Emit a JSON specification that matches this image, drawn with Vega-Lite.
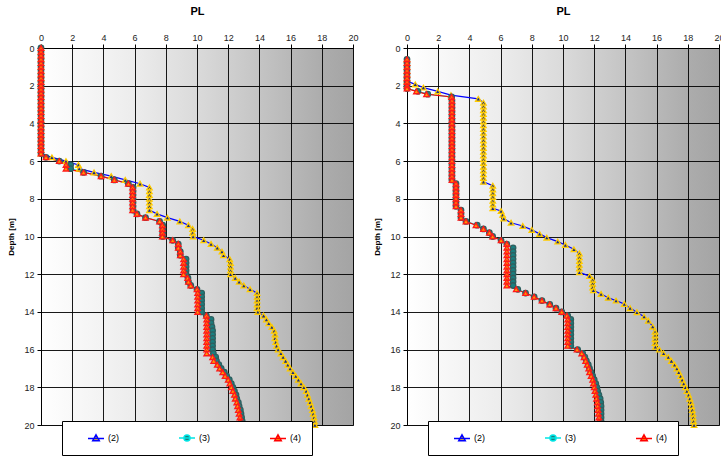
{
"$schema": "https://vega.github.io/schema/vega-lite/v6.json",
"padding": {"left": 7, "top": 4, "right": 2, "bottom": 2},
"datasets": {
"left": [
{"series":"(2)","depth":0,"pl":0},{"series":"(2)","depth":0.2,"pl":0},{"series":"(2)","depth":0.4,"pl":0},{"series":"(2)","depth":0.6,"pl":0},{"series":"(2)","depth":0.8,"pl":0},{"series":"(2)","depth":1,"pl":0},{"series":"(2)","depth":1.2,"pl":0},{"series":"(2)","depth":1.4,"pl":0},{"series":"(2)","depth":1.6,"pl":0},{"series":"(2)","depth":1.8,"pl":0},{"series":"(2)","depth":2,"pl":0},{"series":"(2)","depth":2.2,"pl":0},{"series":"(2)","depth":2.4,"pl":0},{"series":"(2)","depth":2.6,"pl":0},{"series":"(2)","depth":2.8,"pl":0},{"series":"(2)","depth":3,"pl":0},{"series":"(2)","depth":3.2,"pl":0},{"series":"(2)","depth":3.4,"pl":0},{"series":"(2)","depth":3.6,"pl":0},{"series":"(2)","depth":3.8,"pl":0},{"series":"(2)","depth":4,"pl":0},{"series":"(2)","depth":4.2,"pl":0},{"series":"(2)","depth":4.4,"pl":0},{"series":"(2)","depth":4.6,"pl":0},{"series":"(2)","depth":4.8,"pl":0},{"series":"(2)","depth":5,"pl":0},{"series":"(2)","depth":5.2,"pl":0},{"series":"(2)","depth":5.4,"pl":0},{"series":"(2)","depth":5.6,"pl":0},
{"series":"(2)","depth":5.8,"pl":0.7},{"series":"(2)","depth":6,"pl":1.6},{"series":"(2)","depth":6.2,"pl":2.4},{"series":"(2)","depth":6.4,"pl":2.45},{"series":"(2)","depth":6.6,"pl":3.4},{"series":"(2)","depth":6.8,"pl":4.5},{"series":"(2)","depth":7,"pl":5.4},{"series":"(2)","depth":7.2,"pl":6.35},{"series":"(2)","depth":7.4,"pl":6.95},{"series":"(2)","depth":7.6,"pl":6.95},{"series":"(2)","depth":7.8,"pl":6.95},{"series":"(2)","depth":8,"pl":6.95},{"series":"(2)","depth":8.2,"pl":6.95},{"series":"(2)","depth":8.4,"pl":6.95},{"series":"(2)","depth":8.6,"pl":6.95},{"series":"(2)","depth":8.8,"pl":7.44},{"series":"(2)","depth":9,"pl":8.1},{"series":"(2)","depth":9.2,"pl":8.9},{"series":"(2)","depth":9.4,"pl":9.45},{"series":"(2)","depth":9.6,"pl":9.72},{"series":"(2)","depth":9.8,"pl":9.72},{"series":"(2)","depth":10,"pl":9.75},{"series":"(2)","depth":10.2,"pl":10.43},{"series":"(2)","depth":10.4,"pl":10.9},{"series":"(2)","depth":10.6,"pl":11.3},{"series":"(2)","depth":10.8,"pl":11.6},{"series":"(2)","depth":11,"pl":11.7},{"series":"(2)","depth":11.2,"pl":12.1},{"series":"(2)","depth":11.4,"pl":12.15},{"series":"(2)","depth":11.6,"pl":12.15},{"series":"(2)","depth":11.8,"pl":12.15},{"series":"(2)","depth":12,"pl":12.15},{"series":"(2)","depth":12.2,"pl":12.45},{"series":"(2)","depth":12.4,"pl":12.7},{"series":"(2)","depth":12.6,"pl":13},{"series":"(2)","depth":12.8,"pl":13.4},{"series":"(2)","depth":13,"pl":13.85},{"series":"(2)","depth":13.2,"pl":13.85},{"series":"(2)","depth":13.4,"pl":13.85},{"series":"(2)","depth":13.6,"pl":13.85},{"series":"(2)","depth":13.8,"pl":13.85},{"series":"(2)","depth":14,"pl":13.9},{"series":"(2)","depth":14.2,"pl":14.27},{"series":"(2)","depth":14.4,"pl":14.45},{"series":"(2)","depth":14.6,"pl":14.6},{"series":"(2)","depth":14.8,"pl":14.8},{"series":"(2)","depth":15,"pl":14.95},{"series":"(2)","depth":15.2,"pl":15},{"series":"(2)","depth":15.4,"pl":15},{"series":"(2)","depth":15.6,"pl":15.05},{"series":"(2)","depth":15.8,"pl":15.1},{"series":"(2)","depth":16,"pl":15.2},{"series":"(2)","depth":16.2,"pl":15.38},{"series":"(2)","depth":16.4,"pl":15.52},{"series":"(2)","depth":16.6,"pl":15.68},{"series":"(2)","depth":16.8,"pl":15.82},{"series":"(2)","depth":17,"pl":15.97},{"series":"(2)","depth":17.2,"pl":16.15},{"series":"(2)","depth":17.4,"pl":16.33},{"series":"(2)","depth":17.6,"pl":16.5},{"series":"(2)","depth":17.8,"pl":16.67},{"series":"(2)","depth":18,"pl":16.85},{"series":"(2)","depth":18.2,"pl":17},{"series":"(2)","depth":18.4,"pl":17.08},{"series":"(2)","depth":18.6,"pl":17.17},{"series":"(2)","depth":18.8,"pl":17.25},{"series":"(2)","depth":19,"pl":17.32},{"series":"(2)","depth":19.2,"pl":17.4},{"series":"(2)","depth":19.4,"pl":17.45},{"series":"(2)","depth":19.6,"pl":17.5},{"series":"(2)","depth":19.8,"pl":17.53},{"series":"(2)","depth":20,"pl":17.56},
{"series":"(3)","depth":0,"pl":0},{"series":"(3)","depth":0.2,"pl":0},{"series":"(3)","depth":0.4,"pl":0},{"series":"(3)","depth":0.6,"pl":0},{"series":"(3)","depth":0.8,"pl":0},{"series":"(3)","depth":1,"pl":0},{"series":"(3)","depth":1.2,"pl":0},{"series":"(3)","depth":1.4,"pl":0},{"series":"(3)","depth":1.6,"pl":0},{"series":"(3)","depth":1.8,"pl":0},{"series":"(3)","depth":2,"pl":0},{"series":"(3)","depth":2.2,"pl":0},{"series":"(3)","depth":2.4,"pl":0},{"series":"(3)","depth":2.6,"pl":0},{"series":"(3)","depth":2.8,"pl":0},{"series":"(3)","depth":3,"pl":0},{"series":"(3)","depth":3.2,"pl":0},{"series":"(3)","depth":3.4,"pl":0},{"series":"(3)","depth":3.6,"pl":0},{"series":"(3)","depth":3.8,"pl":0},{"series":"(3)","depth":4,"pl":0},{"series":"(3)","depth":4.2,"pl":0},{"series":"(3)","depth":4.4,"pl":0},{"series":"(3)","depth":4.6,"pl":0},{"series":"(3)","depth":4.8,"pl":0},{"series":"(3)","depth":5,"pl":0},{"series":"(3)","depth":5.2,"pl":0},{"series":"(3)","depth":5.4,"pl":0},{"series":"(3)","depth":5.6,"pl":0},
{"series":"(3)","depth":5.8,"pl":0.32},{"series":"(3)","depth":6,"pl":1.17},{"series":"(3)","depth":6.2,"pl":1.9},{"series":"(3)","depth":6.4,"pl":1.9},{"series":"(3)","depth":6.6,"pl":2.73},{"series":"(3)","depth":6.8,"pl":3.85},{"series":"(3)","depth":7,"pl":4.7},{"series":"(3)","depth":7.2,"pl":5.6},{"series":"(3)","depth":7.4,"pl":5.9},{"series":"(3)","depth":7.6,"pl":5.9},{"series":"(3)","depth":7.8,"pl":5.9},{"series":"(3)","depth":8,"pl":5.9},{"series":"(3)","depth":8.2,"pl":5.9},{"series":"(3)","depth":8.4,"pl":5.9},{"series":"(3)","depth":8.6,"pl":5.9},{"series":"(3)","depth":8.8,"pl":6.15},{"series":"(3)","depth":9,"pl":6.7},{"series":"(3)","depth":9.2,"pl":7.6},{"series":"(3)","depth":9.4,"pl":7.8},{"series":"(3)","depth":9.6,"pl":7.8},{"series":"(3)","depth":9.8,"pl":7.8},{"series":"(3)","depth":10,"pl":7.8},{"series":"(3)","depth":10.2,"pl":8.44},{"series":"(3)","depth":10.4,"pl":8.8},{"series":"(3)","depth":10.6,"pl":8.8},{"series":"(3)","depth":10.8,"pl":8.93},{"series":"(3)","depth":11,"pl":8.93},{"series":"(3)","depth":11.2,"pl":9.3},{"series":"(3)","depth":11.4,"pl":9.3},{"series":"(3)","depth":11.6,"pl":9.3},{"series":"(3)","depth":11.8,"pl":9.3},{"series":"(3)","depth":12,"pl":9.3},{"series":"(3)","depth":12.2,"pl":9.42},{"series":"(3)","depth":12.4,"pl":9.45},{"series":"(3)","depth":12.6,"pl":9.6},{"series":"(3)","depth":12.8,"pl":10},{"series":"(3)","depth":13,"pl":10.3},{"series":"(3)","depth":13.2,"pl":10.3},{"series":"(3)","depth":13.4,"pl":10.3},{"series":"(3)","depth":13.6,"pl":10.3},{"series":"(3)","depth":13.8,"pl":10.3},{"series":"(3)","depth":14,"pl":10.3},{"series":"(3)","depth":14.2,"pl":10.6},{"series":"(3)","depth":14.4,"pl":10.9},{"series":"(3)","depth":14.6,"pl":10.9},{"series":"(3)","depth":14.8,"pl":10.96},{"series":"(3)","depth":15,"pl":11},{"series":"(3)","depth":15.2,"pl":11},{"series":"(3)","depth":15.4,"pl":11},{"series":"(3)","depth":15.6,"pl":11},{"series":"(3)","depth":15.8,"pl":11},{"series":"(3)","depth":16,"pl":11},{"series":"(3)","depth":16.2,"pl":11.05},{"series":"(3)","depth":16.4,"pl":11.2},{"series":"(3)","depth":16.6,"pl":11.25},{"series":"(3)","depth":16.8,"pl":11.4},{"series":"(3)","depth":17,"pl":11.55},{"series":"(3)","depth":17.2,"pl":11.75},{"series":"(3)","depth":17.4,"pl":11.9},{"series":"(3)","depth":17.6,"pl":12.07},{"series":"(3)","depth":17.8,"pl":12.2},{"series":"(3)","depth":18,"pl":12.3},{"series":"(3)","depth":18.2,"pl":12.4},{"series":"(3)","depth":18.4,"pl":12.5},{"series":"(3)","depth":18.6,"pl":12.55},{"series":"(3)","depth":18.8,"pl":12.65},{"series":"(3)","depth":19,"pl":12.7},{"series":"(3)","depth":19.2,"pl":12.78},{"series":"(3)","depth":19.4,"pl":12.82},{"series":"(3)","depth":19.6,"pl":12.86},{"series":"(3)","depth":19.8,"pl":12.9},{"series":"(3)","depth":20,"pl":12.92},
{"series":"(4)","depth":0,"pl":0},{"series":"(4)","depth":0.2,"pl":0},{"series":"(4)","depth":0.4,"pl":0},{"series":"(4)","depth":0.6,"pl":0},{"series":"(4)","depth":0.8,"pl":0},{"series":"(4)","depth":1,"pl":0},{"series":"(4)","depth":1.2,"pl":0},{"series":"(4)","depth":1.4,"pl":0},{"series":"(4)","depth":1.6,"pl":0},{"series":"(4)","depth":1.8,"pl":0},{"series":"(4)","depth":2,"pl":0},{"series":"(4)","depth":2.2,"pl":0},{"series":"(4)","depth":2.4,"pl":0},{"series":"(4)","depth":2.6,"pl":0},{"series":"(4)","depth":2.8,"pl":0},{"series":"(4)","depth":3,"pl":0},{"series":"(4)","depth":3.2,"pl":0},{"series":"(4)","depth":3.4,"pl":0},{"series":"(4)","depth":3.6,"pl":0},{"series":"(4)","depth":3.8,"pl":0},{"series":"(4)","depth":4,"pl":0},{"series":"(4)","depth":4.2,"pl":0},{"series":"(4)","depth":4.4,"pl":0},{"series":"(4)","depth":4.6,"pl":0},{"series":"(4)","depth":4.8,"pl":0},{"series":"(4)","depth":5,"pl":0},{"series":"(4)","depth":5.2,"pl":0},{"series":"(4)","depth":5.4,"pl":0},{"series":"(4)","depth":5.6,"pl":0},
{"series":"(4)","depth":5.8,"pl":0.32},{"series":"(4)","depth":6,"pl":1.17},{"series":"(4)","depth":6.2,"pl":1.6},{"series":"(4)","depth":6.4,"pl":1.6},{"series":"(4)","depth":6.6,"pl":2.73},{"series":"(4)","depth":6.8,"pl":3.85},{"series":"(4)","depth":7,"pl":4.7},{"series":"(4)","depth":7.2,"pl":5.6},{"series":"(4)","depth":7.4,"pl":5.87},{"series":"(4)","depth":7.6,"pl":5.87},{"series":"(4)","depth":7.8,"pl":5.87},{"series":"(4)","depth":8,"pl":5.87},{"series":"(4)","depth":8.2,"pl":5.87},{"series":"(4)","depth":8.4,"pl":5.87},{"series":"(4)","depth":8.6,"pl":5.87},{"series":"(4)","depth":8.8,"pl":6.15},{"series":"(4)","depth":9,"pl":6.7},{"series":"(4)","depth":9.2,"pl":7.6},{"series":"(4)","depth":9.4,"pl":7.78},{"series":"(4)","depth":9.6,"pl":7.78},{"series":"(4)","depth":9.8,"pl":7.78},{"series":"(4)","depth":10,"pl":7.78},{"series":"(4)","depth":10.2,"pl":8.44},{"series":"(4)","depth":10.4,"pl":8.8},{"series":"(4)","depth":10.6,"pl":8.8},{"series":"(4)","depth":10.8,"pl":8.93},{"series":"(4)","depth":11,"pl":8.93},{"series":"(4)","depth":11.2,"pl":9.14},{"series":"(4)","depth":11.4,"pl":9.14},{"series":"(4)","depth":11.6,"pl":9.14},{"series":"(4)","depth":11.8,"pl":9.14},{"series":"(4)","depth":12,"pl":9.14},{"series":"(4)","depth":12.2,"pl":9.4},{"series":"(4)","depth":12.4,"pl":9.45},{"series":"(4)","depth":12.6,"pl":9.6},{"series":"(4)","depth":12.8,"pl":10},{"series":"(4)","depth":13,"pl":10.04},{"series":"(4)","depth":13.2,"pl":10.04},{"series":"(4)","depth":13.4,"pl":10.04},{"series":"(4)","depth":13.6,"pl":10.04},{"series":"(4)","depth":13.8,"pl":10.04},{"series":"(4)","depth":14,"pl":10.04},{"series":"(4)","depth":14.2,"pl":10.6},{"series":"(4)","depth":14.4,"pl":10.62},{"series":"(4)","depth":14.6,"pl":10.62},{"series":"(4)","depth":14.8,"pl":10.62},{"series":"(4)","depth":15,"pl":10.62},{"series":"(4)","depth":15.2,"pl":10.62},{"series":"(4)","depth":15.4,"pl":10.62},{"series":"(4)","depth":15.6,"pl":10.62},{"series":"(4)","depth":15.8,"pl":10.62},{"series":"(4)","depth":16,"pl":10.62},{"series":"(4)","depth":16.2,"pl":10.62},{"series":"(4)","depth":16.4,"pl":11},{"series":"(4)","depth":16.6,"pl":11.07},{"series":"(4)","depth":16.8,"pl":11.3},{"series":"(4)","depth":17,"pl":11.45},{"series":"(4)","depth":17.2,"pl":11.65},{"series":"(4)","depth":17.4,"pl":11.8},{"series":"(4)","depth":17.6,"pl":12},{"series":"(4)","depth":17.8,"pl":12.1},{"series":"(4)","depth":18,"pl":12.2},{"series":"(4)","depth":18.2,"pl":12.3},{"series":"(4)","depth":18.4,"pl":12.4},{"series":"(4)","depth":18.6,"pl":12.45},{"series":"(4)","depth":18.8,"pl":12.55},{"series":"(4)","depth":19,"pl":12.6},{"series":"(4)","depth":19.2,"pl":12.65},{"series":"(4)","depth":19.4,"pl":12.7},{"series":"(4)","depth":19.6,"pl":12.75},{"series":"(4)","depth":19.8,"pl":12.75},{"series":"(4)","depth":20,"pl":12.8}
],
"right": [
{"series":"(2)","depth":0.6,"pl":0},{"series":"(2)","depth":0.8,"pl":0},{"series":"(2)","depth":1,"pl":0},{"series":"(2)","depth":1.2,"pl":0},{"series":"(2)","depth":1.4,"pl":0},{"series":"(2)","depth":1.6,"pl":0},{"series":"(2)","depth":1.75,"pl":0},{"series":"(2)","depth":1.93,"pl":0.53},{"series":"(2)","depth":2.1,"pl":1.05},{"series":"(2)","depth":2.3,"pl":1.97},{"series":"(2)","depth":2.5,"pl":2.82},{"series":"(2)","depth":2.7,"pl":4.57},{"series":"(2)","depth":2.9,"pl":4.9},{"series":"(2)","depth":3.1,"pl":4.9},{"series":"(2)","depth":3.3,"pl":4.9},{"series":"(2)","depth":3.5,"pl":4.9},{"series":"(2)","depth":3.7,"pl":4.9},{"series":"(2)","depth":3.9,"pl":4.9},{"series":"(2)","depth":4.1,"pl":4.9},{"series":"(2)","depth":4.3,"pl":4.9},{"series":"(2)","depth":4.5,"pl":4.9},{"series":"(2)","depth":4.7,"pl":4.9},{"series":"(2)","depth":4.9,"pl":4.9},{"series":"(2)","depth":5.1,"pl":4.9},{"series":"(2)","depth":5.3,"pl":4.9},{"series":"(2)","depth":5.5,"pl":4.9},{"series":"(2)","depth":5.7,"pl":4.9},{"series":"(2)","depth":5.9,"pl":4.9},{"series":"(2)","depth":6.1,"pl":4.9},{"series":"(2)","depth":6.3,"pl":4.9},{"series":"(2)","depth":6.5,"pl":4.9},{"series":"(2)","depth":6.7,"pl":4.9},{"series":"(2)","depth":6.9,"pl":4.9},{"series":"(2)","depth":7.1,"pl":4.9},{"series":"(2)","depth":7.3,"pl":5.5},{"series":"(2)","depth":7.5,"pl":5.5},{"series":"(2)","depth":7.7,"pl":5.5},{"series":"(2)","depth":7.9,"pl":5.5},{"series":"(2)","depth":8.1,"pl":5.5},{"series":"(2)","depth":8.3,"pl":5.5},{"series":"(2)","depth":8.5,"pl":5.5},{"series":"(2)","depth":8.65,"pl":6.03},{"series":"(2)","depth":8.85,"pl":6.13},{"series":"(2)","depth":9.05,"pl":6.2},{"series":"(2)","depth":9.27,"pl":6.67},{"series":"(2)","depth":9.44,"pl":7.42},{"series":"(2)","depth":9.65,"pl":8},{"series":"(2)","depth":9.86,"pl":8.5},{"series":"(2)","depth":10.06,"pl":8.96},{"series":"(2)","depth":10.27,"pl":9.66},{"series":"(2)","depth":10.45,"pl":10.15},{"series":"(2)","depth":10.68,"pl":10.7},{"series":"(2)","depth":10.9,"pl":11.05},{"series":"(2)","depth":11.1,"pl":11.05},{"series":"(2)","depth":11.3,"pl":11.05},{"series":"(2)","depth":11.5,"pl":11.05},{"series":"(2)","depth":11.7,"pl":11.05},{"series":"(2)","depth":11.9,"pl":11.05},{"series":"(2)","depth":12.1,"pl":11.7},{"series":"(2)","depth":12.3,"pl":11.9},{"series":"(2)","depth":12.5,"pl":11.9},{"series":"(2)","depth":12.7,"pl":11.9},{"series":"(2)","depth":12.85,"pl":11.95},{"series":"(2)","depth":13.05,"pl":12.44},{"series":"(2)","depth":13.25,"pl":12.9},{"series":"(2)","depth":13.4,"pl":13.4},{"series":"(2)","depth":13.58,"pl":13.93},{"series":"(2)","depth":13.8,"pl":14.3},{"series":"(2)","depth":14.02,"pl":14.74},{"series":"(2)","depth":14.25,"pl":15.2},{"series":"(2)","depth":14.47,"pl":15.47},{"series":"(2)","depth":14.78,"pl":15.75},{"series":"(2)","depth":15.05,"pl":15.9},{"series":"(2)","depth":15.25,"pl":15.9},{"series":"(2)","depth":15.45,"pl":15.9},{"series":"(2)","depth":15.65,"pl":15.9},{"series":"(2)","depth":15.85,"pl":15.92},{"series":"(2)","depth":16,"pl":16.18},{"series":"(2)","depth":16.2,"pl":16.45},{"series":"(2)","depth":16.4,"pl":16.75},{"series":"(2)","depth":16.6,"pl":16.95},{"series":"(2)","depth":16.8,"pl":17.15},{"series":"(2)","depth":17,"pl":17.3},{"series":"(2)","depth":17.2,"pl":17.42},{"series":"(2)","depth":17.4,"pl":17.54},{"series":"(2)","depth":17.6,"pl":17.64},{"series":"(2)","depth":17.8,"pl":17.74},{"series":"(2)","depth":18,"pl":17.85},{"series":"(2)","depth":18.2,"pl":17.94},{"series":"(2)","depth":18.4,"pl":18.05},{"series":"(2)","depth":18.6,"pl":18.13},{"series":"(2)","depth":18.8,"pl":18.2},{"series":"(2)","depth":19,"pl":18.25},{"series":"(2)","depth":19.2,"pl":18.29},{"series":"(2)","depth":19.4,"pl":18.33},{"series":"(2)","depth":19.6,"pl":18.35},{"series":"(2)","depth":19.8,"pl":18.37},{"series":"(2)","depth":20,"pl":18.4},
{"series":"(3)","depth":0.6,"pl":0},{"series":"(3)","depth":0.8,"pl":0},{"series":"(3)","depth":1,"pl":0},{"series":"(3)","depth":1.2,"pl":0},{"series":"(3)","depth":1.4,"pl":0},{"series":"(3)","depth":1.6,"pl":0},{"series":"(3)","depth":1.8,"pl":0},{"series":"(3)","depth":2,"pl":0},{"series":"(3)","depth":2.15,"pl":0},{"series":"(3)","depth":2.3,"pl":0.7},{"series":"(3)","depth":2.45,"pl":1.33},{"series":"(3)","depth":2.6,"pl":2.86},{"series":"(3)","depth":2.8,"pl":2.88},{"series":"(3)","depth":3,"pl":2.88},{"series":"(3)","depth":3.2,"pl":2.88},{"series":"(3)","depth":3.4,"pl":2.88},{"series":"(3)","depth":3.6,"pl":2.88},{"series":"(3)","depth":3.8,"pl":2.88},{"series":"(3)","depth":4,"pl":2.88},{"series":"(3)","depth":4.2,"pl":2.88},{"series":"(3)","depth":4.4,"pl":2.88},{"series":"(3)","depth":4.6,"pl":2.88},{"series":"(3)","depth":4.8,"pl":2.88},{"series":"(3)","depth":5,"pl":2.88},{"series":"(3)","depth":5.2,"pl":2.88},{"series":"(3)","depth":5.4,"pl":2.88},{"series":"(3)","depth":5.6,"pl":2.88},{"series":"(3)","depth":5.8,"pl":2.88},{"series":"(3)","depth":6,"pl":2.88},{"series":"(3)","depth":6.2,"pl":2.88},{"series":"(3)","depth":6.4,"pl":2.88},{"series":"(3)","depth":6.6,"pl":2.88},{"series":"(3)","depth":6.8,"pl":2.88},{"series":"(3)","depth":7,"pl":2.88},{"series":"(3)","depth":7.2,"pl":3.14},{"series":"(3)","depth":7.4,"pl":3.14},{"series":"(3)","depth":7.6,"pl":3.14},{"series":"(3)","depth":7.8,"pl":3.14},{"series":"(3)","depth":8,"pl":3.14},{"series":"(3)","depth":8.2,"pl":3.14},{"series":"(3)","depth":8.4,"pl":3.14},{"series":"(3)","depth":8.6,"pl":3.46},{"series":"(3)","depth":8.8,"pl":3.46},{"series":"(3)","depth":9,"pl":3.46},{"series":"(3)","depth":9.2,"pl":3.78},{"series":"(3)","depth":9.4,"pl":4.5},{"series":"(3)","depth":9.6,"pl":4.9},{"series":"(3)","depth":9.8,"pl":5.28},{"series":"(3)","depth":10,"pl":5.49},{"series":"(3)","depth":10.2,"pl":6.03},{"series":"(3)","depth":10.4,"pl":6.4},{"series":"(3)","depth":10.6,"pl":6.8},{"series":"(3)","depth":10.8,"pl":6.8},{"series":"(3)","depth":11,"pl":6.8},{"series":"(3)","depth":11.2,"pl":6.8},{"series":"(3)","depth":11.4,"pl":6.8},{"series":"(3)","depth":11.6,"pl":6.8},{"series":"(3)","depth":11.8,"pl":6.8},{"series":"(3)","depth":12,"pl":6.8},{"series":"(3)","depth":12.2,"pl":6.8},{"series":"(3)","depth":12.4,"pl":6.8},{"series":"(3)","depth":12.6,"pl":6.8},{"series":"(3)","depth":12.8,"pl":7.1},{"series":"(3)","depth":13,"pl":7.6},{"series":"(3)","depth":13.2,"pl":8.15},{"series":"(3)","depth":13.4,"pl":8.65},{"series":"(3)","depth":13.6,"pl":9.15},{"series":"(3)","depth":13.8,"pl":9.55},{"series":"(3)","depth":14,"pl":9.92},{"series":"(3)","depth":14.2,"pl":10.3},{"series":"(3)","depth":14.4,"pl":10.5},{"series":"(3)","depth":14.6,"pl":10.5},{"series":"(3)","depth":14.8,"pl":10.5},{"series":"(3)","depth":15,"pl":10.5},{"series":"(3)","depth":15.2,"pl":10.5},{"series":"(3)","depth":15.4,"pl":10.5},{"series":"(3)","depth":15.6,"pl":10.5},{"series":"(3)","depth":15.8,"pl":10.5},{"series":"(3)","depth":16,"pl":10.94},{"series":"(3)","depth":16.2,"pl":11.26},{"series":"(3)","depth":16.4,"pl":11.4},{"series":"(3)","depth":16.6,"pl":11.5},{"series":"(3)","depth":16.8,"pl":11.62},{"series":"(3)","depth":17,"pl":11.7},{"series":"(3)","depth":17.2,"pl":11.8},{"series":"(3)","depth":17.4,"pl":11.9},{"series":"(3)","depth":17.6,"pl":12},{"series":"(3)","depth":17.8,"pl":12.1},{"series":"(3)","depth":18,"pl":12.17},{"series":"(3)","depth":18.2,"pl":12.22},{"series":"(3)","depth":18.4,"pl":12.3},{"series":"(3)","depth":18.6,"pl":12.38},{"series":"(3)","depth":18.8,"pl":12.42},{"series":"(3)","depth":19,"pl":12.44},{"series":"(3)","depth":19.2,"pl":12.44},{"series":"(3)","depth":19.4,"pl":12.44},{"series":"(3)","depth":19.6,"pl":12.44},{"series":"(3)","depth":19.8,"pl":12.44},{"series":"(3)","depth":20,"pl":12.44},
{"series":"(4)","depth":0.6,"pl":0},{"series":"(4)","depth":0.8,"pl":0},{"series":"(4)","depth":1,"pl":0},{"series":"(4)","depth":1.2,"pl":0},{"series":"(4)","depth":1.4,"pl":0},{"series":"(4)","depth":1.6,"pl":0},{"series":"(4)","depth":1.8,"pl":0},{"series":"(4)","depth":2,"pl":0},{"series":"(4)","depth":2.15,"pl":0},{"series":"(4)","depth":2.3,"pl":0.6},{"series":"(4)","depth":2.45,"pl":1.25},{"series":"(4)","depth":2.6,"pl":2.86},{"series":"(4)","depth":2.8,"pl":2.88},{"series":"(4)","depth":3,"pl":2.88},{"series":"(4)","depth":3.2,"pl":2.88},{"series":"(4)","depth":3.4,"pl":2.88},{"series":"(4)","depth":3.6,"pl":2.88},{"series":"(4)","depth":3.8,"pl":2.88},{"series":"(4)","depth":4,"pl":2.88},{"series":"(4)","depth":4.2,"pl":2.88},{"series":"(4)","depth":4.4,"pl":2.88},{"series":"(4)","depth":4.6,"pl":2.88},{"series":"(4)","depth":4.8,"pl":2.88},{"series":"(4)","depth":5,"pl":2.88},{"series":"(4)","depth":5.2,"pl":2.88},{"series":"(4)","depth":5.4,"pl":2.88},{"series":"(4)","depth":5.6,"pl":2.88},{"series":"(4)","depth":5.8,"pl":2.88},{"series":"(4)","depth":6,"pl":2.88},{"series":"(4)","depth":6.2,"pl":2.88},{"series":"(4)","depth":6.4,"pl":2.88},{"series":"(4)","depth":6.6,"pl":2.88},{"series":"(4)","depth":6.8,"pl":2.88},{"series":"(4)","depth":7,"pl":2.88},{"series":"(4)","depth":7.2,"pl":3.14},{"series":"(4)","depth":7.4,"pl":3.14},{"series":"(4)","depth":7.6,"pl":3.14},{"series":"(4)","depth":7.8,"pl":3.14},{"series":"(4)","depth":8,"pl":3.14},{"series":"(4)","depth":8.2,"pl":3.14},{"series":"(4)","depth":8.4,"pl":3.14},{"series":"(4)","depth":8.6,"pl":3.46},{"series":"(4)","depth":8.8,"pl":3.46},{"series":"(4)","depth":9,"pl":3.46},{"series":"(4)","depth":9.2,"pl":3.78},{"series":"(4)","depth":9.4,"pl":4.42},{"series":"(4)","depth":9.6,"pl":4.9},{"series":"(4)","depth":9.8,"pl":5.28},{"series":"(4)","depth":10,"pl":5.49},{"series":"(4)","depth":10.2,"pl":6.03},{"series":"(4)","depth":10.4,"pl":6.4},{"series":"(4)","depth":10.6,"pl":6.4},{"series":"(4)","depth":10.8,"pl":6.4},{"series":"(4)","depth":11,"pl":6.4},{"series":"(4)","depth":11.2,"pl":6.4},{"series":"(4)","depth":11.4,"pl":6.4},{"series":"(4)","depth":11.6,"pl":6.4},{"series":"(4)","depth":11.8,"pl":6.4},{"series":"(4)","depth":12,"pl":6.4},{"series":"(4)","depth":12.2,"pl":6.4},{"series":"(4)","depth":12.4,"pl":6.4},{"series":"(4)","depth":12.6,"pl":6.4},{"series":"(4)","depth":12.8,"pl":7},{"series":"(4)","depth":13,"pl":7.6},{"series":"(4)","depth":13.2,"pl":8.15},{"series":"(4)","depth":13.4,"pl":8.65},{"series":"(4)","depth":13.6,"pl":9.15},{"series":"(4)","depth":13.8,"pl":9.55},{"series":"(4)","depth":14,"pl":9.92},{"series":"(4)","depth":14.2,"pl":10.25},{"series":"(4)","depth":14.4,"pl":10.3},{"series":"(4)","depth":14.6,"pl":10.3},{"series":"(4)","depth":14.8,"pl":10.3},{"series":"(4)","depth":15,"pl":10.3},{"series":"(4)","depth":15.2,"pl":10.3},{"series":"(4)","depth":15.4,"pl":10.3},{"series":"(4)","depth":15.6,"pl":10.3},{"series":"(4)","depth":15.8,"pl":10.3},{"series":"(4)","depth":16,"pl":10.9},{"series":"(4)","depth":16.2,"pl":11.2},{"series":"(4)","depth":16.4,"pl":11.35},{"series":"(4)","depth":16.6,"pl":11.45},{"series":"(4)","depth":16.8,"pl":11.55},{"series":"(4)","depth":17,"pl":11.65},{"series":"(4)","depth":17.2,"pl":11.7},{"series":"(4)","depth":17.4,"pl":11.8},{"series":"(4)","depth":17.6,"pl":11.9},{"series":"(4)","depth":17.8,"pl":11.95},{"series":"(4)","depth":18,"pl":12},{"series":"(4)","depth":18.2,"pl":12.05},{"series":"(4)","depth":18.4,"pl":12.1},{"series":"(4)","depth":18.6,"pl":12.15},{"series":"(4)","depth":18.8,"pl":12.2},{"series":"(4)","depth":19,"pl":12.22},{"series":"(4)","depth":19.2,"pl":12.25},{"series":"(4)","depth":19.4,"pl":12.27},{"series":"(4)","depth":19.6,"pl":12.3},{"series":"(4)","depth":19.8,"pl":12.3},{"series":"(4)","depth":20,"pl":12.3}
]
},
"spacing": 54,
"bounds": "flush",
"resolve": {"scale": {"color": "independent"}, "legend": {"color": "independent"}},
"hconcat": [
{
"width": 312, "height": 377,
"data": {"name": "left"},
"encoding": {
"x": {"field": "pl", "type": "quantitative", "scale": {"domain": [0, 20], "nice": false, "zero": false}, "axis": {"orient": "top", "values": [0,2,4,6,8,10,12,14,16,18,20], "title": "PL"}},
"y": {"field": "depth", "type": "quantitative", "scale": {"domain": [0, 20], "reverse": true, "nice": false, "zero": false}, "axis": {"values": [0,2,4,6,8,10,12,14,16,18,20], "title": "Depth [m]", "orient": "left"}}
},
"layer": [
{"mark": {"type": "line", "strokeWidth": 1.2}, "encoding": {"order": {"field": "depth", "type": "quantitative"}, "color": {"field": "series", "type": "nominal", "scale": {"domain": ["(2)","(3)","(4)"], "range": ["#0000ff","#00e5e5","#ff0000"]}, "legend": {"orient": "none", "legendX": 21, "legendY": 373, "direction": "horizontal", "columns": 3, "title": "\u00a0", "titleOrient": "left", "titlePadding": 17, "padding": 11, "columnPadding": 57, "labelOffset": 6, "symbolSize": 100, "labelExpr": "datum.label == '(4)' ? '(4)\u00a0\u00a0\u00a0\u00a0\u00a0' : datum.label", "encode": {"symbols": {"enter": {"fill": [{"test": "datum.value === '(2)'", "value": "#ffcc00"}, {"test": "datum.value === '(3)'", "value": "#1a7f7f"}, {"value": "#ff9900"}]}, "update": {"shape": {"signal": "datum.value === '(3)' ? 'M-1.6,0H1.6M0.6,0A0.6,0.6,0,1,1,-0.6,0A0.6,0.6,0,1,1,0.6,0Z' : 'M-1.6,0H1.6M0,-0.7L0.65,0.45L-0.65,0.45Z'"}, "fill": [{"test": "datum.value === '(2)'", "value": "#ffcc00"}, {"test": "datum.value === '(3)'", "value": "#1a7f7f"}, {"value": "#ff9900"}], "fillOpacity": {"value": 1}, "strokeOpacity": {"value": 1}, "strokeWidth": {"value": 1.5}, "opacity": {"value": 1}}}}}}}},
{"mark": {"type": "point", "filled": true, "size": 30, "strokeWidth": 1.3, "opacity": 1}, "encoding": {"shape": {"field": "series", "type": "nominal", "scale": {"domain": ["(2)","(3)","(4)"], "range": ["triangle-up","circle","triangle-up"]}, "legend": null}, "fill": {"field": "series", "type": "nominal", "scale": {"domain": ["(2)","(3)","(4)"], "range": ["#1a2a80","#1a7f7f","#ff9900"]}, "legend": null}, "stroke": {"field": "series", "type": "nominal", "scale": {"domain": ["(2)","(3)","(4)"], "range": ["#ffcc00","#2f5f5f","#ff1a1a"]}, "legend": null}}}
]
},
{
"width": 312, "height": 377,
"data": {"name": "right"},
"encoding": {
"x": {"field": "pl", "type": "quantitative", "scale": {"domain": [0, 20], "nice": false, "zero": false}, "axis": {"orient": "top", "values": [0,2,4,6,8,10,12,14,16,18,20], "title": "PL"}},
"y": {"field": "depth", "type": "quantitative", "scale": {"domain": [0, 20], "reverse": true, "nice": false, "zero": false}, "axis": {"values": [0,2,4,6,8,10,12,14,16,18,20], "title": "Depth [m]", "orient": "left"}}
},
"layer": [
{"mark": {"type": "line", "strokeWidth": 1.2}, "encoding": {"order": {"field": "depth", "type": "quantitative"}, "color": {"field": "series", "type": "nominal", "scale": {"domain": ["(2)","(3)","(4)"], "range": ["#0000ff","#00e5e5","#ff0000"]}, "legend": {"orient": "none", "legendX": 21, "legendY": 373, "direction": "horizontal", "columns": 3, "title": "\u00a0", "titleOrient": "left", "titlePadding": 17, "padding": 11, "columnPadding": 57, "labelOffset": 6, "symbolSize": 100, "labelExpr": "datum.label == '(4)' ? '(4)\u00a0\u00a0\u00a0\u00a0\u00a0' : datum.label", "encode": {"symbols": {"enter": {"fill": [{"test": "datum.value === '(2)'", "value": "#ffcc00"}, {"test": "datum.value === '(3)'", "value": "#1a7f7f"}, {"value": "#ff9900"}]}, "update": {"shape": {"signal": "datum.value === '(3)' ? 'M-1.6,0H1.6M0.6,0A0.6,0.6,0,1,1,-0.6,0A0.6,0.6,0,1,1,0.6,0Z' : 'M-1.6,0H1.6M0,-0.7L0.65,0.45L-0.65,0.45Z'"}, "fill": [{"test": "datum.value === '(2)'", "value": "#ffcc00"}, {"test": "datum.value === '(3)'", "value": "#1a7f7f"}, {"value": "#ff9900"}], "fillOpacity": {"value": 1}, "strokeOpacity": {"value": 1}, "strokeWidth": {"value": 1.5}, "opacity": {"value": 1}}}}}}}},
{"mark": {"type": "point", "filled": true, "size": 30, "strokeWidth": 1.3, "opacity": 1}, "encoding": {"shape": {"field": "series", "type": "nominal", "scale": {"domain": ["(2)","(3)","(4)"], "range": ["triangle-up","circle","triangle-up"]}, "legend": null}, "fill": {"field": "series", "type": "nominal", "scale": {"domain": ["(2)","(3)","(4)"], "range": ["#1a2a80","#1a7f7f","#ff9900"]}, "legend": null}, "stroke": {"field": "series", "type": "nominal", "scale": {"domain": ["(2)","(3)","(4)"], "range": ["#ffcc00","#2f5f5f","#ff1a1a"]}, "legend": null}}}
]
}
],
"config": {
"font": "Liberation Sans",
"view": {"fill": {"gradient": "linear", "x1": 0, "y1": 0, "x2": 1, "y2": 0, "stops": [{"offset": 0, "color": "#ffffff"}, {"offset": 0.3, "color": "#ececec"}, {"offset": 0.5, "color": "#dadada"}, {"offset": 0.7, "color": "#c4c4c4"}, {"offset": 0.9, "color": "#acacac"}, {"offset": 1, "color": "#a4a4a4"}]}, "stroke": "#7a7a7a", "strokeWidth": 1},
"axis": {"labelFont": "Liberation Sans", "labelFontSize": 9, "labelColor": "#222222", "labelFlush": false, "labelOverlap": false, "titleFont": "Liberation Sans", "titleFontWeight": "bold", "titleColor": "#000000", "domainColor": "#000000", "domainWidth": 1, "tickColor": "#000000", "tickSize": 4, "labelPadding": 2, "gridColor": "#000000", "gridOpacity": 0.9, "gridWidth": 1},
"axisX": {"titleFontSize": 11, "titlePadding": 17},
"axisY": {"titleFontSize": 8, "titlePadding": 8, "labelPadding": 3},
"legend": {"labelFont": "Liberation Sans", "labelFontSize": 9, "labelColor": "#000000", "fillColor": "#ffffff", "strokeColor": "#000000", "strokeWidth": 1}
}
}
